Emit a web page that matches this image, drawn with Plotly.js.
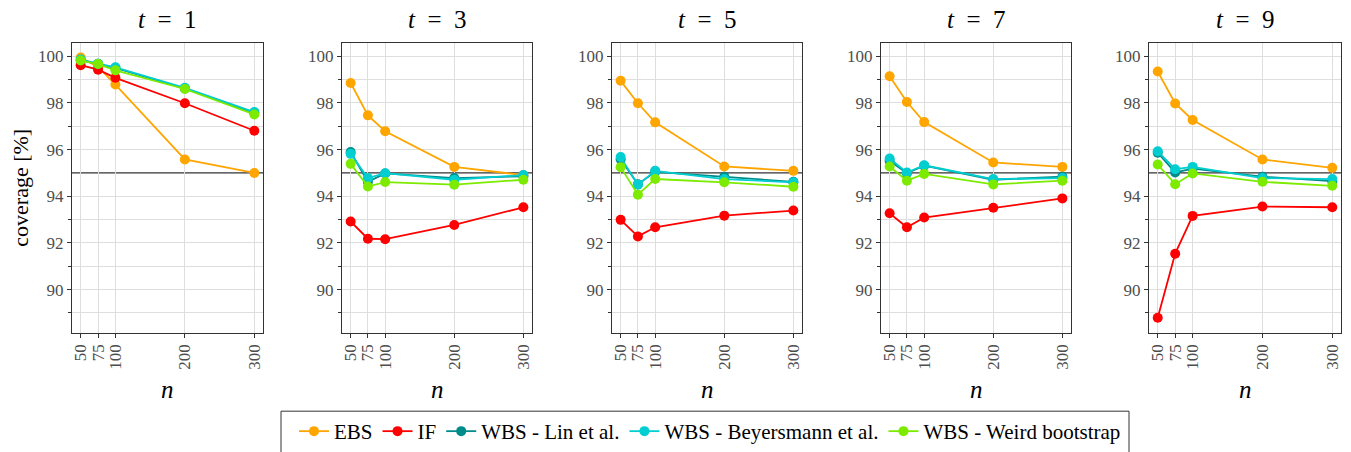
<!DOCTYPE html>
<html>
<head>
<meta charset="utf-8">
<script src="https://cdn.plot.ly/plotly-3.0.1.min.js"></script>
<style>html,body{margin:0;padding:0;background:#fff;}#chart{width:1351px;height:452px;}</style>
</head>
<body>
<div id="chart"></div>
<script>
// ---- data ----
const nValues = [50, 75, 100, 200, 300];
const nTickLabels = ['50', '75', '100', '200', '300'];
const timePoints = [1, 3, 5, 7, 9];
const methods = ['EBS', 'IF', 'WBS - Lin et al.', 'WBS - Beyersmann et al.', 'WBS - Weird bootstrap'];
const colors = ['#FFA500', '#FF0000', '#008B8B', '#00CED1', '#7CEB00'];
const nominalLevel = 95;
const yTickVals = [90, 92, 94, 96, 98, 100];
const yTickText = ['90', '92', '94', '96', '98', '100'];
const yMinorVals = [89, 91, 93, 97, 99];

// coverage [%] per time point (rows) and n (columns)
const ebs = [
  [99.95, 99.55, 98.79, 95.58, 95.00],
  [98.86, 97.47, 96.79, 95.26, 94.91],
  [98.95, 97.99, 97.17, 95.28, 95.09],
  [99.15, 98.04, 97.18, 95.45, 95.26],
  [99.35, 97.98, 97.27, 95.58, 95.22]
];
const influence = [
  [99.62, 99.43, 99.08, 97.99, 96.81],
  [92.92, 92.18, 92.16, 92.77, 93.53],
  [92.99, 92.28, 92.67, 93.17, 93.39],
  [93.27, 92.67, 93.09, 93.51, 93.91],
  [88.79, 91.54, 93.16, 93.56, 93.53]
];
const wbsLin = [
  [99.84, 99.68, 99.50, 98.62, 97.58],
  [95.90, 94.62, 94.98, 94.78, 94.86],
  [95.59, 94.52, 95.05, 94.84, 94.62],
  [95.52, 94.99, 95.31, 94.71, 94.84],
  [95.87, 95.02, 95.19, 94.84, 94.65]
];
const wbsBeyersmann = [
  [99.86, 99.68, 99.53, 98.65, 97.61],
  [95.82, 94.78, 94.99, 94.71, 94.91],
  [95.68, 94.50, 95.09, 94.74, 94.60],
  [95.62, 95.02, 95.33, 94.74, 94.78],
  [95.93, 95.16, 95.26, 94.78, 94.74]
];
const wbsWeird = [
  [99.82, 99.67, 99.40, 98.60, 97.51],
  [95.39, 94.42, 94.61, 94.50, 94.71],
  [95.25, 94.07, 94.74, 94.60, 94.41],
  [95.28, 94.67, 94.96, 94.51, 94.67],
  [95.36, 94.52, 94.98, 94.62, 94.45]
];
const seriesData = [ebs, influence, wbsLin, wbsBeyersmann, wbsWeird];

// ---- layout geometry ----
const W = 1351, H = 452;
const panelPx = [[72, 263], [342, 532], [612, 802], [881, 1071], [1149, 1341]];
const yDomain = [(H - 334) / H, (H - 43) / H];
const FONT = 'Liberation Serif, Times New Roman, serif';
const gridCol = '#dedede';
const axisCol = '#333333';
const tickCol = '#4d4d4d';

const traces = [];
timePoints.forEach((t, p) => {
  const sfx = p === 0 ? '' : String(p + 1);
  seriesData.forEach((s, m) => {
    traces.push({
      type: 'scatter', mode: 'lines+markers',
      x: nValues, y: s[p],
      xaxis: 'x' + sfx, yaxis: 'y' + sfx,
      name: methods[m], legendgroup: methods[m], showlegend: p === 0,
      line: {color: colors[m], width: 1.8},
      marker: {color: colors[m], size: 10},
      hoverinfo: 'skip'
    });
  });
});

const layout = {
  width: W, height: H,
  margin: {l: 0, r: 0, t: 0, b: 0},
  paper_bgcolor: '#ffffff', plot_bgcolor: '#ffffff',
  font: {family: FONT, color: '#000'},
  showlegend: true,
  legend: {
    orientation: 'h', x: 294 / W, xanchor: 'left', y: (H - 413) / H, yanchor: 'top',
    borderwidth: 0, bgcolor: 'rgba(0,0,0,0)', font: {family: FONT, size: 21, color: '#000'},
    itemwidth: 30, tracegroupgap: 0
  },
  shapes: [{
    type: 'rect', xref: 'paper', yref: 'paper',
    x0: 281 / W, x1: 1129 / W, y0: -0.1, y1: (H - 413) / H,
    line: {color: axisCol, width: 1}, fillcolor: 'rgba(0,0,0,0)', layer: 'above'
  }],
  annotations: []
};

timePoints.forEach((t, p) => {
  const sfx = p === 0 ? '' : String(p + 1);
  const [x0, x1] = panelPx[p];
  layout['xaxis' + sfx] = {
    domain: [x0 / W, x1 / W], anchor: 'y' + sfx,
    range: [37.5, 312.5], tickvals: nValues, ticktext: nTickLabels,
    tickangle: -90, ticks: 'outside', ticklen: 4, tickcolor: axisCol,
    tickfont: {family: FONT, size: 17, color: tickCol},
    showgrid: true, gridcolor: gridCol, gridwidth: 1,
    showline: true, linecolor: axisCol, linewidth: 1, mirror: true,
    zeroline: false, automargin: false, fixedrange: true
  };
  layout['yaxis' + sfx] = {
    domain: yDomain, anchor: 'x' + sfx,
    range: [88.16, 100.58], tickvals: yTickVals, ticktext: yTickText,
    ticks: 'outside', ticklen: 4, tickcolor: axisCol,
    tickfont: {family: FONT, size: 17, color: tickCol},
    showgrid: true, gridcolor: gridCol, gridwidth: 1,
    minor: {tickvals: yMinorVals, showgrid: true, gridcolor: gridCol, gridwidth: 1, ticks: 'outside', ticklen: 3, tickcolor: axisCol},
    showline: true, linecolor: axisCol, linewidth: 1, mirror: true,
    zeroline: false, automargin: false, fixedrange: true
  };
  layout.shapes.push({
    type: 'line', xref: 'x' + sfx + ' domain', x0: 0, x1: 1,
    yref: 'y' + sfx, y0: nominalLevel, y1: nominalLevel,
    line: {color: axisCol, width: 1.2}, layer: 'below'
  });
  layout.annotations.push({
    text: '<i>t</i>&nbsp;&nbsp;=&nbsp;&nbsp;' + t, xref: 'paper', yref: 'paper',
    x: (x0 + x1) / 2 / W, y: (H - 20) / H, xanchor: 'center', yanchor: 'middle',
    showarrow: false, font: {family: FONT, size: 25, color: '#000'}
  });
  layout.annotations.push({
    text: '<i>n</i>', xref: 'paper', yref: 'paper',
    x: (x0 + x1) / 2 / W, y: (H - 391) / H, xanchor: 'center', yanchor: 'middle',
    showarrow: false, font: {family: FONT, size: 25, color: '#000'}
  });
});
layout.annotations.push({
  text: 'coverage [%]', xref: 'paper', yref: 'paper',
  x: 21 / W, y: (H - 188.5) / H, xanchor: 'center', yanchor: 'middle', textangle: -90,
  showarrow: false, font: {family: FONT, size: 22, color: '#000'}
});

Plotly.newPlot('chart', traces, layout, {staticPlot: true, displayModeBar: false});
</script>
</body>
</html>
